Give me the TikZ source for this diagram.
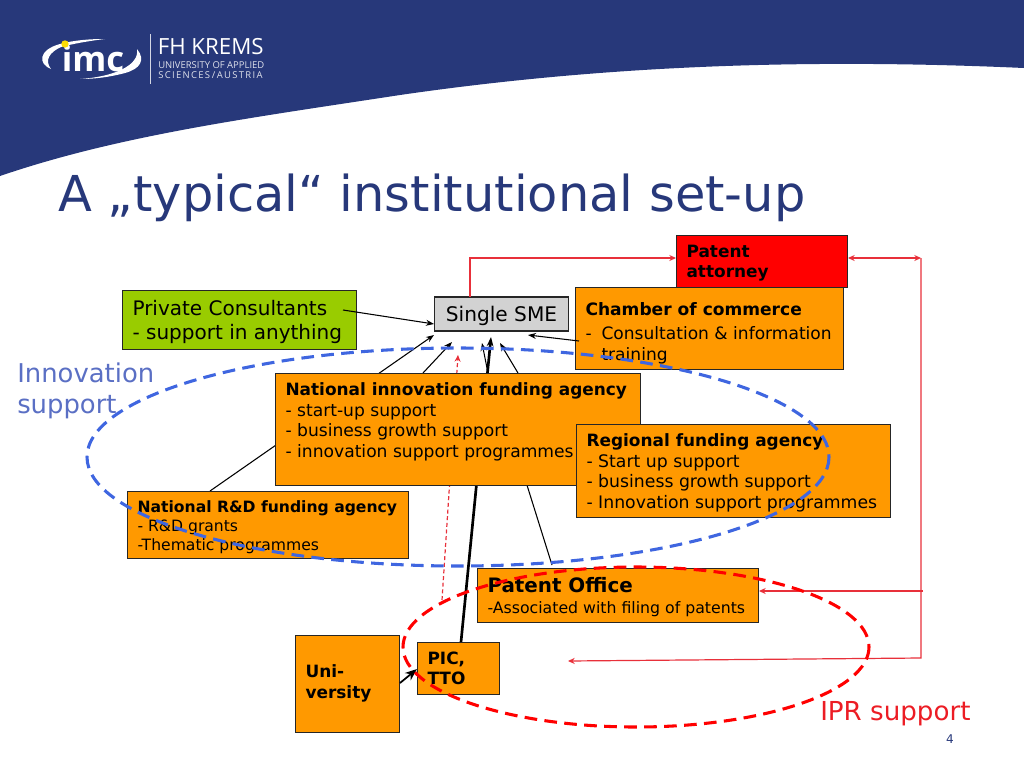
\documentclass[tikz,border=0pt]{standalone}
\usepackage{fontspec}
\setmainfont{DejaVu Sans}
\newfontfamily\logofont{Open Sans}
\usetikzlibrary{arrows.meta}
\definecolor{navy}{HTML}{27387A}
\definecolor{boxorange}{HTML}{FF9900}
\definecolor{boxgreen}{HTML}{99CC00}
\definecolor{boxgray}{HTML}{D2D2D2}
\definecolor{ellblue}{HTML}{3F66E0}
\definecolor{linkred}{HTML}{E8303A}
\definecolor{iprred}{HTML}{EC1C24}
\definecolor{innoblue}{HTML}{5A6FC4}
\newcommand{\boxtext}[3]{\parbox[c][\dimexpr #2pt*3/4-14pt\relax][t]{\dimexpr #1pt*3/4-15pt\relax}{\raggedright #3}}
\newcommand{\boxhead}[1]{{\fontsize{12.7}{15.4}\selectfont\bfseries #1}}
\tikzset{
	instbox/.style={draw=black!85,line width=0.8pt,anchor=north west,inner xsep=7.5pt,inner ysep=7pt,font=\fontsize{12.85}{15.4}\selectfont},
	link/.style={-{Stealth[length=6pt,width=4.5pt]},line width=0.8pt},
	redlink/.style={-{Stealth[length=5pt,width=4.5pt]},draw=linkred,line width=0.9pt},
	arealine/.style={line width=2.3pt,dash pattern=on 9.5pt off 5.5pt},
}
\begin{document}
\begin{tikzpicture}[x=0.75pt,y=-0.75pt]
	\useasboundingbox (0,0) rectangle (1024,768);
	% header
	\fill[navy] (0,0) -- (1024,0) -- (1024,68) .. controls (800,58) and (600,66) .. (400,95) .. controls (250,118) and (120,135) .. (0,176) -- cycle;
	% logo
	\fill[white] (51,69) .. controls (38,64) and (38,50) .. (60,44) .. controls (75,40) and (90,39) .. (105,39) .. controls (88,41) and (72,44) .. (61,47) .. controls (50,52) and (44,60) .. (51,69) -- cycle;
	\fill[white] (80,79) .. controls (112,77) and (140,66) .. (137,49) .. controls (146,60) and (140,69) .. (125,73) .. controls (110,77) and (95,79) .. (80,79) -- cycle;
	\node[text=white,font=\logofont\bfseries\fontsize{26}{26}\selectfont,inner sep=0pt] (logoimc) at (93,58) {imc};
	\fill[yellow!80!orange] (65,44) circle (3.7);
	\draw[white!80!navy,line width=0.7pt] (150.5,34) -- (150.5,84);
	\node[text=white,font=\logofont\fontsize{16.7}{16.7}\selectfont,anchor=west,inner sep=0pt] (logofh) at (157.5,47) {FH KREMS};
	\node[text=white!85!navy,font=\logofont\fontsize{7.1}{7.8}\selectfont,anchor=north west,inner sep=0pt,align=left] (logouni) at (158,61) {UNIVERSITY OF APPLIED\\{\addfontfeatures{LetterSpace=14}SCIENCES\,/\,AUSTRIA}};
	% title
	\node[text=navy,font=\fontsize{37.1}{37.1}\selectfont,anchor=base west,inner sep=0pt] (title) at (58,211) {A „typical“ institutional set-up};
	% links below the boxes
	\coordinate (smeA) at (434,335);
	\coordinate (smeB) at (452,342);
	\coordinate (smeC) at (482,343);
	\coordinate (smeD) at (491,337);
	\coordinate (smeE) at (500,343);
	\coordinate (smeF) at (458,355);
	\coordinate (rdA) at (210,491);
	\coordinate (innoA) at (423,373);
	\coordinate (innoB) at (488,373);
	\coordinate (innoC) at (518,373);
	\coordinate (officeA) at (552,565);
	\coordinate (officeB) at (521,466);
	\coordinate (ticA) at (461,642);
	\coordinate (uniA) at (442,600);
	\draw[link] (rdA) -- (smeA);
	\draw[link] (innoA) -- (smeB);
	\draw[link] (innoB) -- (smeC);
	\draw[link] (innoC) -- (smeE);
	\draw[link] (officeA) -- (officeB);
	\draw[-{Stealth[length=7pt,width=5pt]},line width=2pt] (ticA) -- (smeD);
	\draw[redlink,densely dashed] (uniA) -- (smeF);
	% boxes
	\node[instbox,fill=red] (attorney) at (676,235) {\boxtext{171}{52}{\boxhead{Patent\\attorney}}};
	\node[instbox,fill=boxorange,font=\fontsize{12.8}{16}\selectfont] (chamber) at (575,287) {\boxtext{268}{82}{\vspace{4pt}\textbf{Chamber of commerce}\\[2pt]\makebox[12pt][l]{-}Consultation \& information\\\makebox[12pt][l]{-}training}};
	\node[instbox,fill=boxgreen,font=\fontsize{15}{18}\selectfont] (consult) at (122,290) {\boxtext{234}{59}{Private Consultants\\- support in anything}};
	\node[instbox,fill=boxgray,inner xsep=0pt,inner ysep=0pt,font=\fontsize{15.1}{18}\selectfont,minimum width=100pt,minimum height=25.5pt,text depth=0pt,anchor=center] (sme) at (501.5,314) {Single SME};
	\node[instbox,fill=boxorange] (natinno) at (275,373) {\boxtext{365}{112}{\boxhead{National innovation funding agency}\\- start-up support\\- business growth support\\- innovation support programmes}};
	\node[instbox,fill=boxorange,font=\fontsize{12.95}{15.4}\selectfont] (regional) at (576,424) {\boxtext{314}{93}{\boxhead{Regional funding agency}\\- Start up support\\- business growth support\\- Innovation support programmes}};
	\node[instbox,fill=boxorange,font=\fontsize{11.7}{14.2}\selectfont] (natrd) at (127,491) {\boxtext{281}{67}{\textbf{National R\&D funding agency}\\- R\&D grants\\-Thematic programmes}};
	\node[instbox,fill=boxorange,font=\fontsize{11.8}{15.5}\selectfont] (office) at (477,568) {\boxtext{281}{54}{{\fontsize{14.9}{17}\selectfont\bfseries Patent Office}\\-Associated with filing of patents}};
	\node[instbox,fill=boxorange,font=\fontsize{12.7}{15.4}\selectfont\bfseries] (uni) at (295,635) {\boxtext{104}{97}{\vspace{15pt}Uni-\\versity}};
	\node[instbox,fill=boxorange,font=\fontsize{12.7}{15.4}\selectfont\bfseries] (tic) at (417,642) {\boxtext{82}{52}{PIC,\\TTO}};
	% links on top of the boxes
	\coordinate (consultA) at (343,310);
	\coordinate (smeG) at (434,324);
	\coordinate (chamberA) at (579,341);
	\coordinate (smeH) at (528,335);
	\coordinate (uniB) at (400,683);
	\coordinate (ticB) at (417,669);
	\coordinate (smeTop) at (470,297);
	\coordinate (attLeft) at (676,258);
	\coordinate (attRight) at (848,258);
	\coordinate (railTop) at (921,258);
	\coordinate (railBottom) at (921,658);
	\coordinate (railBranch) at (923,591);
	\coordinate (railEnd) at (568,661);
	\coordinate (officeRight) at (759,591);
	\draw[link] (consultA) -- (smeG);
	\draw[link] (chamberA) -- (smeH);
	\draw[-{Stealth[length=9pt,width=7pt]},line width=1.3pt] (uniB) -- (ticB);
	\draw[redlink] (smeTop) |- (attLeft);
	\draw[redlink,{Stealth[length=5pt,width=4.5pt]}-{Stealth[length=5pt,width=4.5pt]}] (attRight) -- (railTop);
	\draw[redlink] (railTop) -- (railBottom) -- (railEnd);
	\draw[redlink] (railBranch) -- (officeRight);
	% support areas
	\draw[ellblue,arealine] (458,457) ellipse [x radius=371,y radius=109];
	\draw[red,arealine] (636,647) ellipse [x radius=233,y radius=80];
	\node[text=innoblue,font=\fontsize{19.4}{23.2}\selectfont,anchor=north west,inner sep=0pt,align=left] (innolabel) at (17,363) {Innovation\\support};
	\node[text=iprred,font=\fontsize{19.6}{19.6}\selectfont,anchor=base west,inner sep=0pt] (iprlabel) at (820,720) {IPR support};
	\node[text=navy,font=\fontsize{9}{9}\selectfont,anchor=base,inner sep=0pt] (pagenum) at (950,743) {4};
\end{tikzpicture}
\end{document}
